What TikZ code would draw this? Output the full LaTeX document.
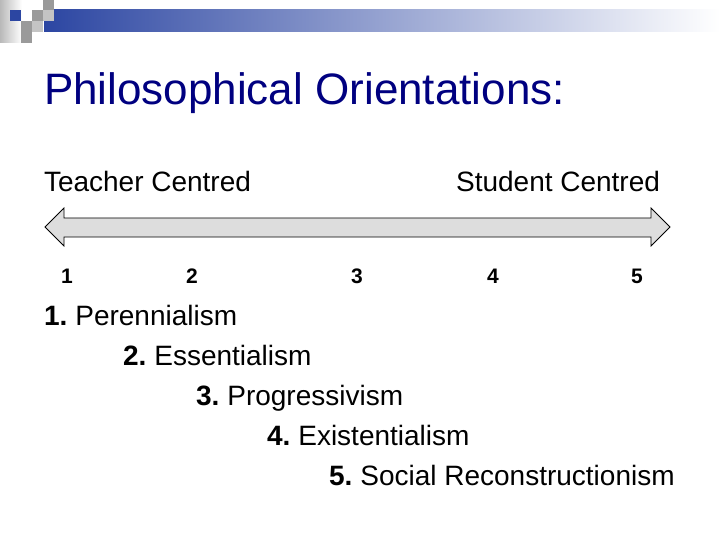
\documentclass[tikz,border=0pt]{standalone}
\usepackage{fontspec}
\setmainfont{Liberation Sans}
\usepackage{tikz}
\usetikzlibrary{positioning}
\definecolor{titleblue}{HTML}{000080}
\definecolor{barblue}{HTML}{2C46A2}
\definecolor{barmid}{HTML}{B3B8D7}
\definecolor{sqgrey}{HTML}{9A9A9A}
\definecolor{sqlight}{HTML}{C4C4C4}
\definecolor{arrowfill}{HTML}{DDDDDD}
\tikzset{every node/.style={inner sep=0pt,outer sep=0pt},
  title/.style={anchor=base west,text=titleblue,font=\fontsize{44}{50}\selectfont},
  side/.style={font=\fontsize{28}{32}\selectfont},
  num/.style={anchor=base,font=\fontsize{21}{24}\selectfont\bfseries},
  item/.style={anchor=base west,font=\fontsize{28}{32}\selectfont}}
\newcommand{\ilabel}[2]{\textbf{#1.}\hspace{8pt}#2}

\begin{document}
\begin{tikzpicture}[x=1pt,y=-1pt]
    \useasboundingbox (0,0) rectangle (720,540);
    % corner squares and bar
    \shade[left color=gray!55,right color=white] (0,0) rectangle (22,43);
    \shade[left color=barblue,middle color=barmid,right color=white] (44,10) rectangle (720,32);
    \fill[barblue] (10,10) rectangle (21,21);
    \fill[sqgrey] (43,0) rectangle (54,10);
    \fill[sqlight] (43,10) rectangle (54,21);
    \fill[sqgrey] (32,10) rectangle (43,21);
    \fill[sqgrey] (21,21) rectangle (32,32);
    \fill[sqlight] (32,21) rectangle (43,32);
    \fill[sqgrey] (21,32) rectangle (32,43);
    \node[title] (title) at (44,105) {Philosophical Orientations:};
    \node[side,anchor=base west] (teacher) at (44,192) {Teacher Centred};
    \node[side,anchor=base east] (student) at (660,192) {Student Centred};
    % the scale
    \filldraw[fill=arrowfill,draw=black,line width=0.8pt,line join=miter]
      (45,227) -- (64,208) -- (64,218) -- (651,218) -- (651,208) -- (670,227)
      -- (651,246) -- (651,237) -- (64,237) -- (64,246) -- cycle;
    \foreach \n/\x in {1/67,2/192,3/357,4/493,5/637}
      \node[num] (n\n) at (\x,283) {\n};
    \node[item] (p1) at (44,325) {\ilabel{1}{Perennialism}};
    \node[item] (p2) at (123,365) {\ilabel{2}{Essentialism}};
    \node[item] (p3) at (196,405) {\ilabel{3}{Progressivism}};
    \node[item] (p4) at (267,445) {\ilabel{4}{Existentialism}};
    \node[item] (p5) at (329,485) {\ilabel{5}{Social Reconstructionism}};
\end{tikzpicture}
\end{document}
